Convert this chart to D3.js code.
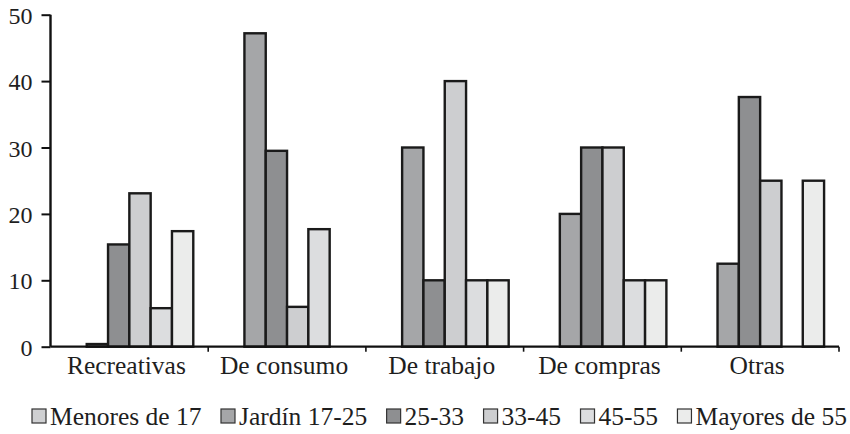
<!DOCTYPE html>
<html>
<head>
<meta charset="utf-8">
<script src="https://cdn.jsdelivr.net/npm/d3@7"></script>
<style>
  html, body { margin: 0; padding: 0; background: #fff; }
  svg { display: block; }
  text { font-family: "Liberation Serif", "Times New Roman", serif; fill: #1e1e1e; }
</style>
</head>
<body>
<svg id="chart" width="850" height="434"></svg>
<script>
// Categories (activity types) and age-group series
const categories = ["Recreativas", "De consumo", "De trabajo", "De compras", "Otras"];
const seriesNames = ["Menores de 17", "Jardín 17-25", "25-33", "33-45", "45-55", "Mayores de 55"];

// Values per series, one entry per category
const menores17 = [0, 0, 0, 0, 0];
const jardin1725 = [0.4, 47.2, 30, 20, 12.5];
const edad2533 = [15.4, 29.5, 10, 30, 37.6];
const edad3345 = [23.1, 6, 40, 30, 25];
const edad4555 = [5.8, 17.7, 10, 10, 0];
const mayores55 = [17.4, 0, 10, 10, 25];

const yTicks = [0, 10, 20, 30, 40, 50];

const seriesValues = [menores17, jardin1725, edad2533, edad3345, edad4555, mayores55];
const fills = ["#cfd0d2", "#a5a6a8", "#8e8f91", "#cdced0", "#dcdddf", "#ebeceb"];

const svg = d3.select("#chart");
const plot = { left: 50.5, right: 839, top: 14.7, bottom: 346.7 };

const x = d3.scaleBand().domain(categories).range([plot.left, plot.right]).paddingInner(0).paddingOuter(0);
const xs = d3.scaleBand().domain(d3.range(seriesNames.length)).range([0, x.bandwidth()])
  .paddingInner(0).paddingOuter(0.7);
const y = d3.scaleLinear().domain([0, 50]).range([plot.bottom, plot.top]);

// bars
const rows = [];
seriesValues.forEach((vals, s) => vals.forEach((v, c) => {
  if (v > 0) rows.push({ s, cat: categories[c], v });
}));

svg.append("g").selectAll("rect").data(rows).join("rect")
  .attr("x", d => x(d.cat) + xs(d.s))
  .attr("y", d => y(d.v))
  .attr("width", xs.bandwidth())
  .attr("height", d => y(0) - y(d.v))
  .attr("fill", d => fills[d.s])
  .attr("stroke", "#1a1a1a")
  .attr("stroke-width", 2.4);

// y axis
const yAxis = svg.append("g").attr("transform", `translate(${plot.left},0)`)
  .call(d3.axisLeft(y).tickValues(yTicks).tickSize(9).tickPadding(9).tickFormat(d3.format("d")));
yAxis.select(".domain").attr("stroke", "#111").attr("stroke-width", 2.4).attr("d", `M0,${plot.top}V${plot.bottom}`);
yAxis.selectAll(".tick line").attr("stroke", "#111").attr("stroke-width", 2);
yAxis.selectAll(".tick text").attr("font-size", 24).attr("fill", "#1e1e1e")
  .attr("font-family", "Liberation Serif, serif").attr("dy", "0.36em");

// x axis: baseline with ticks at category boundaries
const xg = svg.append("g");
xg.append("line")
  .attr("x1", plot.left).attr("x2", plot.right)
  .attr("y1", y(0)).attr("y2", y(0))
  .attr("stroke", "#111").attr("stroke-width", 2.2);
xg.selectAll("line.bt").data(categories).join("line").attr("class", "bt")
  .attr("x1", d => x(d) + x.bandwidth()).attr("x2", d => x(d) + x.bandwidth())
  .attr("y1", y(0)).attr("y2", y(0) + 5)
  .attr("stroke", "#111").attr("stroke-width", 1.6);
xg.selectAll("text").data(categories).join("text")
  .attr("x", d => x(d) + x.bandwidth() / 2 - 3)
  .attr("y", 374)
  .attr("text-anchor", "middle")
  .attr("font-size", 25.5)
  .text(d => d);

// legend, spread across the bottom
const lg = svg.append("g");
const legendLeft = 32, legendRight = 847, sw = 14, swGap = 4, ly = 425;
const items = seriesNames.map((name, i) => {
  const g = lg.append("g");
  g.append("rect").attr("width", sw).attr("height", sw).attr("y", ly - 16)
    .attr("fill", fills[i]).attr("stroke", "#333").attr("stroke-width", 1.2);
  const t = g.append("text").attr("x", sw + swGap).attr("y", ly).attr("font-size", 25.5).text(name);
  return { g, w: sw + swGap + t.node().getComputedTextLength() };
});
const totalW = d3.sum(items, d => d.w);
const spacing = (legendRight - legendLeft - totalW) / (items.length - 1);
let cx = legendLeft;
items.forEach(it => {
  it.g.attr("transform", `translate(${cx},0)`);
  cx += it.w + spacing;
});
</script>
</body>
</html>
